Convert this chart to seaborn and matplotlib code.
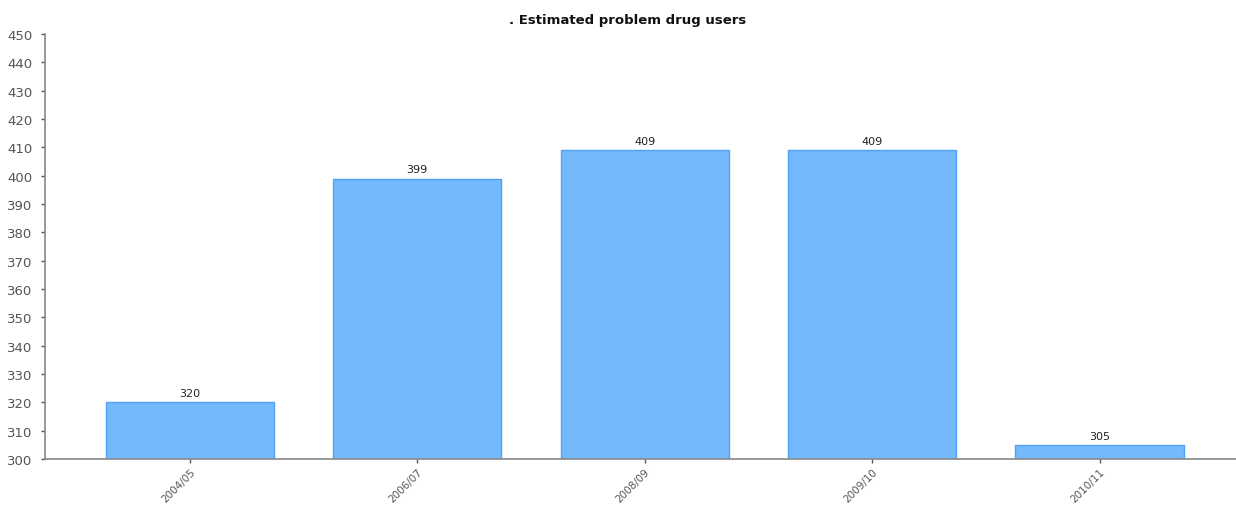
import matplotlib
matplotlib.use("Agg")
import matplotlib.pyplot as plt
import seaborn as sns
import pandas as pd

periods = ["2004/05", "2006/07", "2008/09", "2009/10", "2010/11"]
users = [320, 399, 409, 409, 305]

df = pd.DataFrame({"period": periods, "users": users})

sns.set_theme(style="white")
plt.rcParams["font.family"] = ["DejaVu Sans"]

fig = plt.figure(figsize=(12.36, 5.06), dpi=100)
ax = fig.add_axes([0.0364, 0.0909, 0.9636, 0.8399])

sns.barplot(
    data=df, x="period", y="users", ax=ax,
    color="#74b9fb", edgecolor="#4da3f5", linewidth=1, width=0.74,
    saturation=1,
)

ax.set_ylim(300, 450)
ax.set_yticks(range(300, 451, 10))
ax.set_xlim(-0.637, 4.6)
ax.set_xlabel("")
ax.set_ylabel("")

for i, v in enumerate(users):
    ax.text(i, v + 1.5, str(v), ha="center", va="bottom", fontsize=8, color="#222222")

ax.tick_params(axis="y", labelsize=9.5, colors="#555555", length=3, width=1,
               left=True, direction="out", pad=6)
ax.tick_params(axis="x", labelsize=7.5, colors="#555555", length=3, width=1,
               bottom=True, direction="out", labelrotation=45, pad=2)
for lbl in ax.get_xticklabels():
    lbl.set_ha("right")
    lbl.set_rotation_mode("anchor")

for side in ["top", "right"]:
    ax.spines[side].set_visible(False)
for side in ["left", "bottom"]:
    ax.spines[side].set_color("#888888")
    ax.spines[side].set_linewidth(1.2)

fig.text(0.508, 0.96, ". Estimated problem drug users", ha="center", va="center",
         fontsize=9.5, fontweight="bold", color="#111111")

fig.savefig("out.png", dpi=100)
